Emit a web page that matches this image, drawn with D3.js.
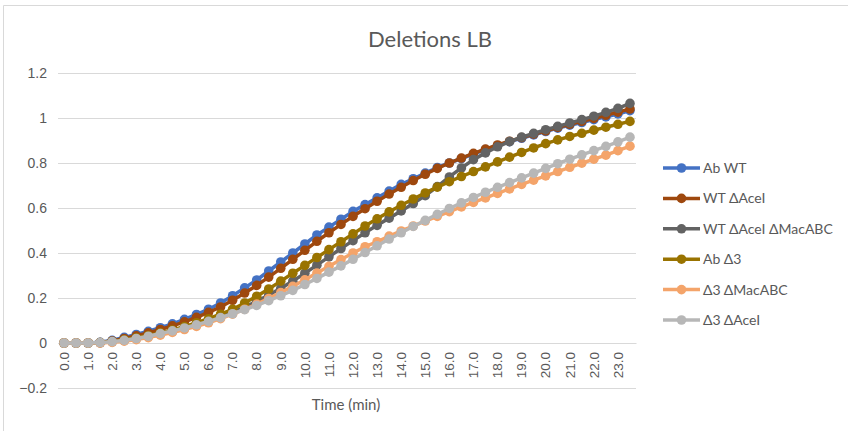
<!DOCTYPE html>
<html>
<head>
<meta charset="utf-8">
<script src="https://cdn.jsdelivr.net/npm/d3@7"></script>
<style>
  body { margin: 0; background: #fff; }
  svg { font-family: Lato, "Open Sans", sans-serif; }
  .grid line { stroke: #d9d9d9; stroke-width: 1; }
  .tick text { fill: #595959; }
</style>
</head>
<body>
<div id="chart"></div>
<script>
"use strict";

// time points (min), labelled every second point
const times = [0, 0.5, 1, 1.5, 2, 2.5, 3, 3.5, 4, 4.5, 5, 5.5, 6, 6.5, 7, 7.5,
  8, 8.5, 9, 9.5, 10, 10.5, 11, 11.5, 12, 12.5, 13, 13.5, 14, 14.5, 15, 15.5,
  16, 16.5, 17, 17.5, 18, 18.5, 19, 19.5, 20, 20.5, 21, 21.5, 22, 22.5, 23, 23.5];

const yTicks = [-0.2, 0, 0.2, 0.4, 0.6, 0.8, 1, 1.2];

const abWT = [0, 0, 0, 0.003, 0.012, 0.025, 0.038, 0.052, 0.068, 0.085, 0.105, 0.127,
  0.15, 0.178, 0.21, 0.245, 0.28, 0.32, 0.36, 0.40, 0.44, 0.48, 0.515, 0.55,
  0.585, 0.615, 0.645, 0.675, 0.705, 0.73, 0.755, 0.78, 0.80, 0.82, 0.84, 0.86,
  0.878, 0.895, 0.91, 0.925, 0.94, 0.955, 0.968, 0.98, 0.993, 1.005, 1.018, 1.033];

const wtAceI = [0, 0, 0, 0.002, 0.009, 0.02, 0.032, 0.045, 0.06, 0.076, 0.094, 0.114,
  0.136, 0.16, 0.19, 0.222, 0.256, 0.293, 0.332, 0.372, 0.412, 0.452, 0.49, 0.527,
  0.563, 0.597, 0.63, 0.662, 0.692, 0.722, 0.75, 0.776, 0.80, 0.822, 0.843, 0.862,
  0.88, 0.897, 0.913, 0.928, 0.943, 0.958, 0.972, 0.985, 0.998, 1.012, 1.026, 1.04];

const wtAceIMac = [0, 0, 0, 0.001, 0.005, 0.011, 0.019, 0.028, 0.039, 0.051, 0.065, 0.08,
  0.097, 0.116, 0.137, 0.16, 0.185, 0.213, 0.243, 0.275, 0.31, 0.346, 0.383, 0.42,
  0.455, 0.49, 0.523, 0.555, 0.587, 0.62, 0.655, 0.695, 0.738, 0.778, 0.815, 0.845,
  0.872, 0.895, 0.915, 0.932, 0.948, 0.963, 0.978, 0.993, 1.008, 1.025, 1.043, 1.065];

const abD3 = [0, 0, 0, 0.002, 0.007, 0.014, 0.023, 0.033, 0.045, 0.058, 0.073, 0.09,
  0.108, 0.128, 0.15, 0.178, 0.208, 0.24, 0.275, 0.31, 0.345, 0.38, 0.415, 0.45,
  0.485, 0.52, 0.552, 0.583, 0.612, 0.64, 0.667, 0.693, 0.717, 0.74, 0.762, 0.783,
  0.805, 0.826, 0.847, 0.867, 0.886, 0.903, 0.918, 0.932, 0.946, 0.959, 0.972, 0.985];

const d3Mac = [0, 0, 0, 0, 0.003, 0.008, 0.015, 0.024, 0.035, 0.047, 0.06, 0.074,
  0.09, 0.108, 0.128, 0.15, 0.173, 0.198, 0.224, 0.252, 0.281, 0.311, 0.341, 0.371,
  0.4, 0.428, 0.45, 0.475, 0.498, 0.52, 0.542, 0.563, 0.584, 0.605, 0.625, 0.645,
  0.665, 0.685, 0.705, 0.724, 0.743, 0.762, 0.781, 0.799, 0.817, 0.835, 0.855, 0.875];

const d3AceI = [0, 0, 0, 0.002, 0.006, 0.012, 0.02, 0.03, 0.042, 0.054, 0.067, 0.081,
  0.096, 0.113, 0.13, 0.148, 0.167, 0.188, 0.21, 0.234, 0.26, 0.287, 0.315, 0.343,
  0.372, 0.402, 0.432, 0.462, 0.49, 0.518, 0.545, 0.572, 0.598, 0.623, 0.647, 0.67,
  0.692, 0.713, 0.734, 0.755, 0.776, 0.797, 0.817, 0.836, 0.855, 0.874, 0.894, 0.915];

const seriesNames = ["Ab WT", "WT \u0394AceI", "WT \u0394AceI \u0394MacABC",
  "Ab \u03943", "\u03943 \u0394MacABC", "\u03943 \u0394AceI"];
const seriesValues = [abWT, wtAceI, wtAceIMac, abD3, d3Mac, d3AceI];
const seriesColors = ["#4472c4", "#9e480e", "#636363", "#997300", "#f4a46a", "#b7b7b7"];

const width = 848, height = 431;
const margin = {top: 73, right: 212, bottom: 43, left: 58};
const plotW = width - margin.left - margin.right;
const plotH = height - margin.top - margin.bottom;

const svg = d3.select("#chart").append("svg")
  .attr("width", width)
  .attr("height", height);

// outer chart frame
svg.append("path")
  .attr("d", "M3.5," + height + "V5.5H" + width)
  .attr("fill", "none")
  .attr("stroke", "#d9d9d9");

svg.append("text")
  .attr("x", 430).attr("y", 47)
  .attr("text-anchor", "middle")
  .attr("fill", "#595959")
  .style("font-size", "22px")
  .text("Deletions LB");

const g = svg.append("g")
  .attr("transform", "translate(" + margin.left + "," + margin.top + ")");

const xScale = d3.scaleBand()
  .domain(d3.range(times.length))
  .range([0, plotW]);

const yScale = d3.scaleLinear()
  .domain([-0.2, 1.2])
  .range([plotH, 0]);

const xc = i => xScale(i) + xScale.bandwidth() / 2;

// horizontal gridlines + y labels
g.append("g")
  .attr("class", "grid")
  .call(d3.axisLeft(yScale).tickValues(yTicks).tickSize(-plotW).tickPadding(11)
    .tickFormat(d => d3.format("")(+d.toFixed(1))))
  .call(a => a.select(".domain").remove())
  .call(a => a.selectAll("text").style("font-size", "14px"));

// category axis at y = 0
const xAxis = g.append("g")
  .attr("transform", "translate(0," + yScale(0) + ")")
  .call(d3.axisBottom(xScale)
    .tickValues(d3.range(0, times.length, 2))
    .tickSize(0)
    .tickFormat(i => times[i].toFixed(1)));
xAxis.select(".domain").attr("stroke", "#d9d9d9");
xAxis.selectAll("text")
  .attr("transform", "rotate(-90)")
  .attr("x", -9).attr("y", 0).attr("dy", "0.35em")
  .attr("text-anchor", "end")
  .style("font-size", "13.5px");

g.append("text")
  .attr("x", 288).attr("y", plotH + 22)
  .attr("text-anchor", "middle")
  .attr("fill", "#595959")
  .style("font-size", "15px")
  .text("Time (min)");

const line = d3.line()
  .x((d, i) => xc(i))
  .y(d => yScale(d));

seriesValues.forEach((vals, s) => {
  const sg = g.append("g");
  sg.append("path")
    .datum(vals)
    .attr("d", line)
    .attr("fill", "none")
    .attr("stroke", seriesColors[s])
    .attr("stroke-width", 3.5)
    .attr("stroke-linejoin", "round");
  sg.selectAll("circle")
    .data(vals)
    .join("circle")
    .attr("cx", (d, i) => xc(i))
    .attr("cy", d => yScale(d))
    .attr("r", 4.8)
    .attr("fill", seriesColors[s]);
});

// legend
const legend = svg.append("g").attr("transform", "translate(663,168)");
seriesNames.forEach((name, s) => {
  const row = legend.append("g").attr("transform", "translate(0," + (s * 30.4) + ")");
  row.append("line")
    .attr("x1", 0).attr("x2", 37)
    .attr("stroke", seriesColors[s]).attr("stroke-width", 3.5);
  row.append("circle")
    .attr("cx", 18.5).attr("r", 4.8)
    .attr("fill", seriesColors[s]);
  row.append("text")
    .attr("x", 40).attr("dy", "0.35em")
    .attr("fill", "#595959")
    .style("font-size", "14px")
    .text(name);
});
</script>
</body>
</html>
